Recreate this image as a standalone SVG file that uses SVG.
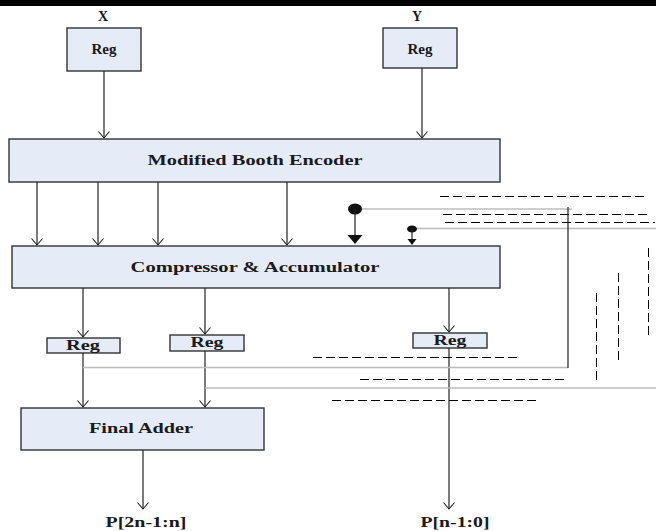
<svg xmlns="http://www.w3.org/2000/svg" width="656" height="531" viewBox="0 0 656 531">
  <defs>
    <marker id="open" markerUnits="userSpaceOnUse" markerWidth="10" markerHeight="14" viewBox="-8 -7 10 14" refX="0" refY="0" orient="auto">
      <path d="M-6.5,-5.5 L0,0 L-6.5,5.5" fill="none" stroke="#222" stroke-width="1.1"/>
    </marker>
    <style>
      .box { fill: #e6ecf7; stroke: #333; stroke-width: 1.4; }
      .lbl { font-family: "Liberation Serif", "Times New Roman", serif; font-weight: bold; fill: #1a1a1a; text-anchor: middle; }
      .wire { stroke: #222; stroke-width: 1.2; fill: none; }
      .arr { stroke: #222; stroke-width: 1.2; fill: none; marker-end: url(#open); }
      .grey { stroke: #bcbcbc; stroke-width: 1.5; fill: none; }
      .dash { stroke: #000; stroke-width: 1; stroke-dasharray: 9 4; fill: none; }
    </style>
  </defs>

  <!-- top rule -->
  <rect x="0" y="0" width="656" height="6" fill="#000"/>

  <!-- input labels -->
  <text class="lbl" x="103" y="21" font-size="14">X</text>
  <text class="lbl" x="417" y="21" font-size="14">Y</text>

  <g id="reg-x">
    <rect class="box" x="67" y="28" width="74" height="43"/>
    <text class="lbl" x="104" y="54" font-size="15">Reg</text>
  </g>
  <g id="reg-y">
    <rect class="box" x="383" y="28" width="74" height="40"/>
    <text class="lbl" x="420" y="54" font-size="15">Reg</text>
  </g>

  <g id="booth-encoder">
    <rect class="box" x="9" y="139" width="491" height="43"/>
    <text class="lbl" x="255" y="165" font-size="15" textLength="215" lengthAdjust="spacingAndGlyphs">Modified Booth Encoder</text>
  </g>

  <g id="compressor">
    <rect class="box" x="12" y="246" width="488" height="42"/>
    <text class="lbl" x="255" y="272" font-size="15" textLength="249" lengthAdjust="spacingAndGlyphs">Compressor &amp; Accumulator</text>
  </g>

  <g id="reg-1">
    <rect class="box" x="47" y="338" width="73" height="15"/>
    <text class="lbl" x="83" y="350" font-size="14" textLength="34" lengthAdjust="spacingAndGlyphs">Reg</text>
  </g>
  <g id="reg-2">
    <rect class="box" x="170" y="335" width="74" height="16"/>
    <text class="lbl" x="207" y="347" font-size="14" textLength="33" lengthAdjust="spacingAndGlyphs">Reg</text>
  </g>
  <g id="reg-3">
    <rect class="box" x="413" y="333" width="74" height="15"/>
    <text class="lbl" x="450" y="345" font-size="14" textLength="33" lengthAdjust="spacingAndGlyphs">Reg</text>
  </g>

  <g id="final-adder">
    <rect class="box" x="21" y="408" width="243" height="42"/>
    <text class="lbl" x="141" y="433" font-size="15" textLength="104" lengthAdjust="spacingAndGlyphs">Final Adder</text>
  </g>

  <!-- outputs -->
  <text class="lbl" x="146" y="527" font-size="14" textLength="81" lengthAdjust="spacingAndGlyphs">P[2n-1:n]</text>
  <text class="lbl" x="455" y="527" font-size="14" textLength="69" lengthAdjust="spacingAndGlyphs">P[n-1:0]</text>

  <g id="connectors">
    <!-- registers into encoder -->
    <line class="arr" x1="104" y1="71" x2="104" y2="138"/>
    <line class="arr" x1="422" y1="68" x2="422" y2="138"/>
    <!-- encoder into compressor -->
    <line class="arr" x1="37" y1="182" x2="37" y2="245"/>
    <line class="arr" x1="98" y1="182" x2="98" y2="245"/>
    <line class="arr" x1="158" y1="182" x2="158" y2="245"/>
    <line class="arr" x1="287" y1="182" x2="287" y2="245"/>
    <!-- compressor into registers -->
    <line class="arr" x1="83" y1="288" x2="83" y2="337"/>
    <line class="arr" x1="205" y1="288" x2="205" y2="334"/>
    <line class="arr" x1="449" y1="288" x2="449" y2="332"/>
    <!-- registers into final adder -->
    <line class="arr" x1="83" y1="353" x2="83" y2="407"/>
    <line class="arr" x1="205" y1="351" x2="205" y2="407"/>
    <!-- results -->
    <line class="arr" x1="143" y1="450" x2="143" y2="509"/>
    <line class="arr" x1="449" y1="348" x2="449" y2="509"/>

    <!-- feedback taps -->
    <line class="grey" x1="355" y1="209" x2="572" y2="209"/>
    <line class="grey" x1="412" y1="228.5" x2="656" y2="228.5"/>
    <line class="grey" x1="83" y1="367.5" x2="568" y2="367.5" stroke-width="2"/>
    <line class="grey" x1="205" y1="388" x2="656" y2="388"/>
    <line class="wire" x1="568" y1="207" x2="568" y2="368"/>

    <ellipse cx="355" cy="209" rx="7" ry="5.5" fill="#111"/>
    <line class="wire" x1="355" y1="209" x2="355" y2="236" stroke-width="1.6"/>
    <polygon points="347.5,235 362.5,235 355,244" fill="#111"/>
    <ellipse cx="412" cy="229" rx="5" ry="3.5" fill="#111"/>
    <line class="wire" x1="412" y1="229" x2="412" y2="240"/>
    <polygon points="407.5,239 416.5,239 412,245" fill="#111"/>

    <!-- dashed lines -->
    <line class="dash" x1="440" y1="196.5" x2="645" y2="196.5"/>
    <line class="dash" x1="443" y1="214.5" x2="650" y2="214.5"/>
    <line class="dash" x1="445" y1="222.5" x2="655" y2="222.5"/>
    <line class="dash" x1="313" y1="357.5" x2="520" y2="357.5"/>
    <line class="dash" x1="360" y1="379.5" x2="567" y2="379.5"/>
    <line class="dash" x1="332" y1="400.5" x2="538" y2="400.5"/>
    <line class="dash" x1="648.5" y1="248" x2="648.5" y2="337"/>
    <line class="dash" x1="618.5" y1="273" x2="618.5" y2="362"/>
    <line class="dash" x1="596.5" y1="293" x2="596.5" y2="383"/>
  </g>
</svg>
